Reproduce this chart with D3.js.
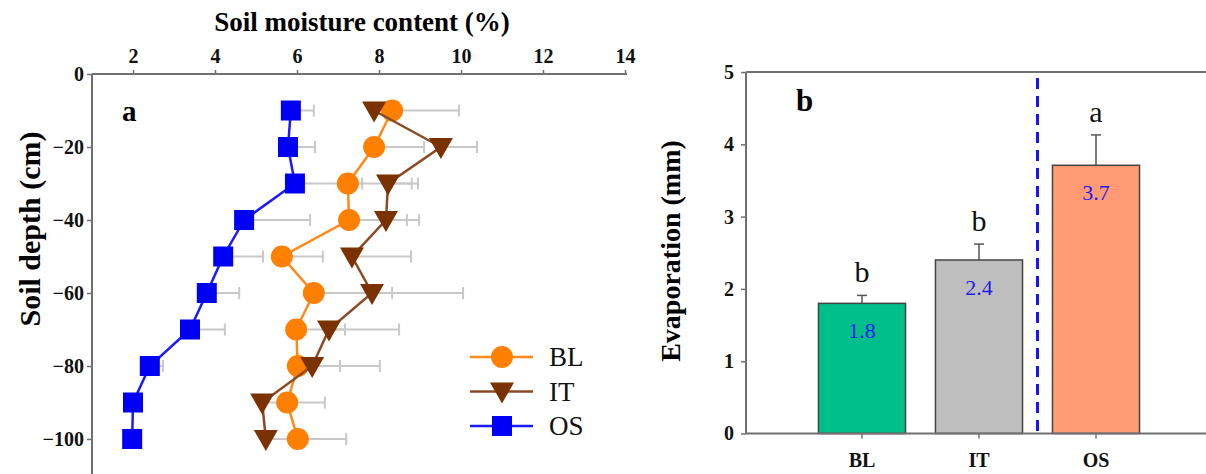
<!DOCTYPE html>
<html><head><meta charset="utf-8">
<script src="https://cdn.jsdelivr.net/npm/d3@7"></script>
<style>body{margin:0;background:#fff}svg{display:block}svg text{font-family:"Liberation Serif","Times New Roman",serif}</style>
</head><body><svg id="c" width="1206" height="474"></svg>
<script>
// ---- Panel a data ----
const depths = [-10,-20,-30,-40,-50,-60,-70,-80,-90,-100];
const blVals = [8.32,7.88,7.24,7.27,5.63,6.41,5.98,6.02,5.76,6.02];
const blErrEnd = [9.95,9.10,8.80,8.68,6.63,8.32,7.17,7.05,6.68,7.20];
const itVals = [7.88,9.51,8.22,8.17,7.34,7.83,6.78,6.37,5.15,5.24];
const itErrEnd = [8.10,10.39,8.95,8.98,8.78,10.05,8.49,8.02,5.70,6.15];
const osVals = [5.85,5.78,5.95,4.71,4.20,3.80,3.39,2.41,2.00,1.98];
const osErrEnd = [6.41,6.44,7.59,6.32,5.17,4.59,4.24,2.73,2.05,2.03];
const xTicksA = [2,4,6,8,10,12,14];
const yTicksA = [0,-20,-40,-60,-80,-100];
const seriesNames = ["BL","IT","OS"];
// ---- Panel b data ----
const bCats = ["BL","IT","OS"];
const bVals = [1.8,2.4,3.71];
const bErr = [0.11,0.22,0.42];
const bLabels = ["1.8","2.4","3.7"];
const bLetters = ["b","b","a"];
const yTicksB = [0,1,2,3,4,5];

const svg = d3.select("#c");
const axisCol = "#707070";
const FONT = "Liberation Serif";

// ===== Panel a =====
const xA = d3.scaleLinear().domain([1,14]).range([92,625]);
const yA = d3.scaleLinear().domain([0,-110]).range([74,475.5]);
const gA = svg.append("g");

const xAxA = gA.append("g").attr("transform","translate(0,74)")
  .call(d3.axisTop(xA).tickValues(xTicksA).tickSize(4).tickPadding(7).tickFormat(d3.format("d")));
const yAxA = gA.append("g").attr("transform","translate(92,0)")
  .call(d3.axisLeft(yA).tickValues(yTicksA).tickSize(5).tickPadding(3).tickFormat(d3.format("d")));
[xAxA,yAxA].forEach(a=>{
  a.attr("font-family",FONT);
  a.selectAll("path").attr("stroke",axisCol).attr("stroke-width",2);
  a.selectAll("line").attr("stroke",axisCol).attr("stroke-width",1.5);
  a.selectAll("text").attr("fill","#111").style("font-size","20px").style("font-weight","bold").style("font-family",FONT);
});
xAxA.select("path").attr("d","M92,0H627");
yAxA.select("path").attr("d","M0,74V476");

gA.append("text").attr("x",362).attr("y",31).attr("text-anchor","middle").style("font-family",FONT)
  .style("font-size","27px").style("font-weight","bold").text("Soil moisture content (%)");
gA.append("text").attr("transform","translate(40,229) rotate(-90)").attr("text-anchor","middle").style("font-family",FONT)
  .style("font-size","30px").style("font-weight","bold").text("Soil depth (cm)");
gA.append("text").attr("x",122).attr("y",121).style("font-family",FONT).style("font-size","29px").style("font-weight","bold").text("a");

const seriesA = [
  {name:"BL", vals:blVals, err:blErrEnd, color:"#FF7F00", line:"#FF8A1A", marker:"circle"},
  {name:"IT", vals:itVals, err:itErrEnd, color:"#7A3300", line:"#8B4A26", marker:"tri"},
  {name:"OS", vals:osVals, err:osErrEnd, color:"#0000F5", line:"#1A1AFF", marker:"square"}
];

// error bars (drawn first, gray, right side only)
seriesA.forEach(s=>{
  const g = gA.append("g");
  depths.forEach((d,i)=>{
    const x0 = xA(s.vals[i]), x1 = xA(s.err[i]), y = yA(d);
    g.append("line").attr("x1",x0).attr("x2",x1).attr("y1",y).attr("y2",y).attr("stroke","#c8c8c8").attr("stroke-width",2);
    g.append("line").attr("x1",x1).attr("x2",x1).attr("y1",y-6).attr("y2",y+6).attr("stroke","#c8c8c8").attr("stroke-width",2);
  });
});

function drawMarker(g, type, x, y, color){
  if(type==="circle") g.append("circle").attr("cx",x).attr("cy",y).attr("r",11).attr("fill",color);
  else if(type==="square") g.append("rect").attr("x",x-10).attr("y",y-10).attr("width",20).attr("height",20).attr("fill",color);
  else g.append("path").attr("d",`M${x-12},${y-9}L${x+12},${y-9}L${x},${y+12}Z`).attr("fill",color);
}

const lineGen = d3.line().x(d=>xA(d[0])).y(d=>yA(d[1]));
seriesA.forEach(s=>{
  const pts = depths.map((d,i)=>[s.vals[i],d]);
  gA.append("path").attr("d",lineGen(pts)).attr("fill","none").attr("stroke",s.line).attr("stroke-width",2.5);
  const g = gA.append("g");
  pts.forEach(p=>drawMarker(g,s.marker,xA(p[0]),yA(p[1]),s.color));
});

// legend
const legY = d3.scalePoint().domain(seriesNames).range([357,426]);
seriesA.forEach(s=>{
  const y = legY(s.name);
  gA.append("line").attr("x1",470).attr("x2",533).attr("y1",y).attr("y2",y).attr("stroke",s.line).attr("stroke-width",2.5);
  drawMarker(gA,s.marker,502,y,s.color);
  gA.append("text").attr("x",549).attr("y",y+9).style("font-family",FONT).style("font-size","27px").attr("fill","#111").text(s.name);
});

// ===== Panel b =====
const yB = d3.scaleLinear().domain([0,5]).range([433.5,72]);
const xB = d3.scaleBand().domain(bCats).range([803.5,1154.5]).paddingInner(0.256).paddingOuter(0.128);
const gB = svg.append("g");

// frame top line
gB.append("line").attr("x1",746).attr("x2",1210).attr("y1",yB(5)).attr("y2",yB(5)).attr("stroke",axisCol).attr("stroke-width",2);

const barCols = ["#00BF8A","#BEBEBE","#FF9A75"];
gB.selectAll("rect.bar").data(bCats).enter().append("rect")
  .attr("x",d=>xB(d)).attr("width",xB.bandwidth())
  .attr("y",(d,i)=>yB(bVals[i])).attr("height",(d,i)=>yB(0)-yB(bVals[i]))
  .attr("fill",(d,i)=>barCols[i]).attr("stroke","#444").attr("stroke-width",1.5);

// error bars
bCats.forEach((c,i)=>{
  const cx = xB(c)+xB.bandwidth()/2;
  gB.append("line").attr("x1",cx).attr("x2",cx).attr("y1",yB(bVals[i])).attr("y2",yB(bVals[i]+bErr[i])).attr("stroke","#555").attr("stroke-width",1.5);
  gB.append("line").attr("x1",cx-5).attr("x2",cx+5).attr("y1",yB(bVals[i]+bErr[i])).attr("y2",yB(bVals[i]+bErr[i])).attr("stroke","#555").attr("stroke-width",1.5);
  gB.append("text").attr("x",cx).attr("y",yB(bVals[i]+bErr[i])-13).attr("text-anchor","middle").style("font-family",FONT)
    .style("font-size","30px").attr("fill","#111").text(bLetters[i]);
  gB.append("text").attr("x",cx).attr("y",yB(bVals[i])+35).attr("text-anchor","middle").style("font-family",FONT)
    .style("font-size","22px").attr("fill","#1a1aee").text(bLabels[i]);
});

// dashed separator between IT and OS
const sepX = (xB("IT")+xB.bandwidth()+xB("OS"))/2;
gB.append("line").attr("x1",sepX).attr("x2",sepX).attr("y1",78).attr("y2",436)
  .attr("stroke","#1414ff").attr("stroke-width",3).attr("stroke-dasharray","11,7");

const yAxB = gB.append("g").attr("transform","translate(746,0)")
  .call(d3.axisLeft(yB).tickValues(yTicksB).tickSize(5).tickPadding(7).tickFormat(d3.format("d")));
const xAxB = gB.append("g").attr("transform",`translate(0,${yB(0)})`)
  .call(d3.axisBottom(xB).tickSize(5).tickPadding(14));
[yAxB,xAxB].forEach(a=>{
  a.attr("font-family",FONT);
  a.selectAll("path").attr("stroke",axisCol).attr("stroke-width",2);
  a.selectAll("line").attr("stroke",axisCol).attr("stroke-width",1.5);
  a.selectAll("text").attr("fill","#111").style("font-size","20px").style("font-weight","bold").style("font-family",FONT);
});
xAxB.select("path").attr("d","M746,0H1210");
yAxB.select("path").attr("d","M0,72V433.5");

gB.append("text").attr("transform","translate(680,251) rotate(-90)").attr("text-anchor","middle").style("font-family",FONT)
  .style("font-size","28px").style("font-weight","bold").text("Evaporation (mm)");
gB.append("text").attr("x",796).attr("y",111).style("font-family",FONT).style("font-size","31px").style("font-weight","bold").text("b");
</script></body></html>
